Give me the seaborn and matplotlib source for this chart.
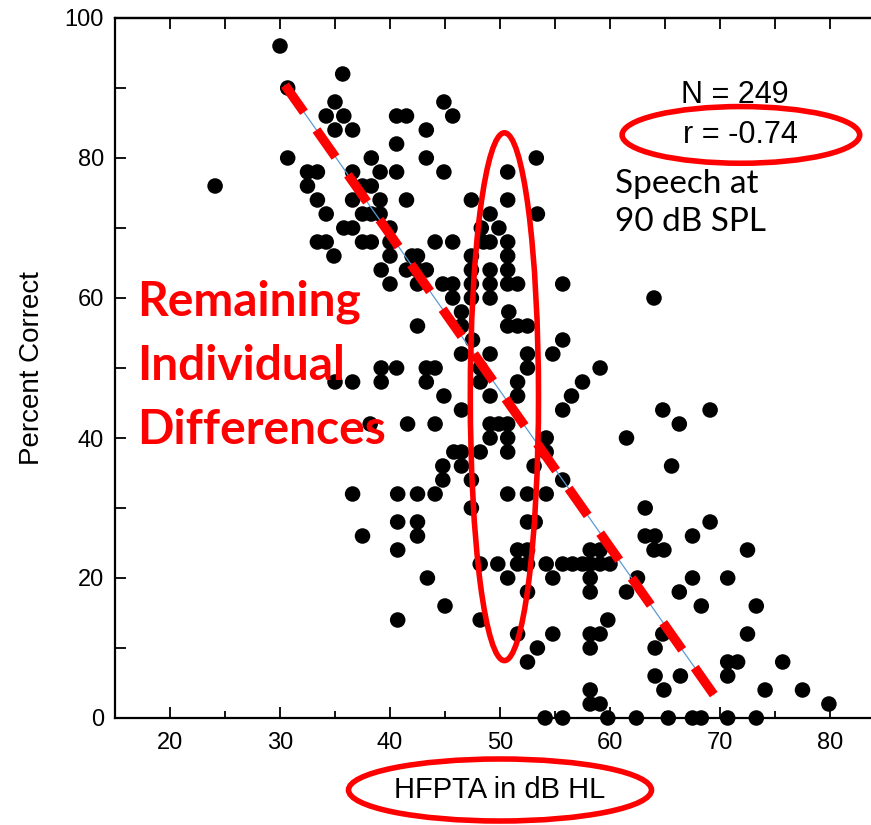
import matplotlib
matplotlib.use("Agg")
import matplotlib.pyplot as plt
from matplotlib.patches import Ellipse
from matplotlib.ticker import MultipleLocator
import seaborn as sns
import pandas as pd

# ---- data (HFPTA in dB HL, percent correct) ----
level_96 = [30.0]
level_92 = [35.7]
level_90 = [30.7]
level_88 = [35.0, 44.9]
level_86 = [34.2, 35.8, 40.6, 41.5, 45.7]
level_84 = [35.0, 36.6, 43.3]
level_82 = [40.6]
level_80 = [30.7, 38.3, 43.3, 53.3]
level_78 = [32.5, 33.4, 36.6, 39.1, 40.6, 44.9, 50.7]
level_76 = [24.1, 32.5, 37.5, 38.3]
level_74 = [33.4, 36.6, 39.1, 41.5, 47.4, 50.7]
level_72 = [34.2, 37.5, 38.3, 39.1, 49.1, 53.4]
level_70 = [35.8, 36.6, 40.0, 48.3, 49.9]
level_68 = [33.4, 34.2, 37.5, 38.3, 40.0, 44.1, 45.7, 48.5, 49.1, 50.7]
level_66 = [34.9, 40.0, 42.0, 42.5, 47.4, 50.7]
level_64 = [39.2, 41.5, 42.5, 43.3, 47.4, 49.1, 50.7]
level_62 = [40.0, 42.5, 44.8, 45.7, 47.4, 49.1, 50.7, 51.6, 55.7]
level_60 = [45.7, 47.4, 49.1, 64.0]
level_58 = [46.5, 50.8]
level_56 = [42.5, 46.5, 50.7, 51.6, 52.5]
level_54 = [47.5, 55.7]
level_52 = [46.5, 49.1, 52.5, 54.8]
level_50 = [39.2, 40.6, 43.3, 44.1, 48.2, 52.5, 59.1]
level_48 = [35.0, 36.6, 39.2, 43.3, 48.2, 51.6, 57.5]
level_46 = [44.9, 49.1, 51.6, 56.5]
level_44 = [46.5, 55.7, 64.8, 69.1]
level_42 = [38.2, 41.6, 44.1, 49.1, 49.9, 50.7, 66.3]
level_40 = [49.1, 50.7, 54.2, 61.5]
level_38 = [45.8, 46.5, 48.2, 50.7, 54.2]
level_36 = [44.8, 46.5, 53.1, 65.6]
level_34 = [44.8, 47.4, 55.7]
level_32 = [36.6, 40.7, 42.5, 44.1, 50.7, 52.5, 54.2]
level_30 = [47.4, 63.2]
level_28 = [40.7, 42.5, 52.5, 53.2, 69.1]
level_26 = [37.5, 42.5, 63.2, 64.1, 67.5]
level_24 = [40.7, 51.6, 52.5, 58.2, 59.1, 64.0, 64.9, 72.5]
level_22 = [48.2, 49.8, 51.6, 52.5, 54.2, 55.7, 56.6, 57.5, 58.2, 59.1, 60.0]
level_20 = [43.4, 50.7, 54.8, 58.2, 62.5, 67.5, 70.7]
level_18 = [52.5, 58.2, 61.5, 66.3]
level_16 = [45.0, 68.3, 73.3]
level_14 = [40.7, 48.2, 59.8]
level_12 = [51.6, 54.8, 58.2, 59.1, 64.8, 72.5]
level_10 = [53.4, 58.2, 64.1]
level_08 = [52.5, 70.7, 71.6, 75.7]
level_06 = [64.1, 66.4, 70.7]
level_04 = [58.2, 64.9, 74.1, 77.5]
level_02 = [58.2, 59.1, 79.9]
level_00 = [54.1, 55.7, 59.8, 62.4, 65.3, 67.5, 68.3, 70.7, 73.3]

levels = {
    96: level_96, 92: level_92, 90: level_90, 88: level_88, 86: level_86,
    84: level_84, 82: level_82, 80: level_80, 78: level_78, 76: level_76,
    74: level_74, 72: level_72, 70: level_70, 68: level_68, 66: level_66,
    64: level_64, 62: level_62, 60: level_60, 58: level_58, 56: level_56,
    54: level_54, 52: level_52, 50: level_50, 48: level_48, 46: level_46,
    44: level_44, 42: level_42, 40: level_40, 38: level_38, 36: level_36,
    34: level_34, 32: level_32, 30: level_30, 28: level_28, 26: level_26,
    24: level_24, 22: level_22, 20: level_20, 18: level_18, 16: level_16,
    14: level_14, 12: level_12, 10: level_10, 8: level_08, 6: level_06,
    4: level_04, 2: level_02, 0: level_00,
}
hfpta = [x for y, xs in levels.items() for x in xs]
percent_correct = [y for y, xs in levels.items() for x in xs]

# regression line
fit_x = [30.45, 69.45]
fit_y = [90.4, 3.3]

x_ticks = [20, 30, 40, 50, 60, 70, 80]
y_ticks = [0, 20, 40, 60, 80, 100]

df = pd.DataFrame({"HFPTA": hfpta, "Percent": percent_correct})
fit_df = pd.DataFrame({"x": fit_x, "y": fit_y})

sns.set_style("ticks")
plt.rcParams["font.family"] = ["Liberation Sans", "DejaVu Sans"]
plt.rcParams["text.color"] = "black"
plt.rcParams["axes.labelcolor"] = "black"

W, H = 871, 825
fig = plt.figure(figsize=(W / 100, H / 100), dpi=100)
ax = fig.add_axes([115 / W, 1 - 718 / H, 770 / W, 700 / H])

sns.scatterplot(data=df, x="HFPTA", y="Percent", color="black", s=125,
                edgecolor="none", linewidth=0, ax=ax, zorder=3, clip_on=False)

sns.lineplot(data=fit_df, x="x", y="y", color="#5B9BD5", linewidth=0.9,
             ax=ax, zorder=4)
sns.lineplot(data=fit_df, x="x", y="y", color="#FF0000", linewidth=6.8,
             ax=ax, zorder=5)
ax.lines[-1].set_dashes([3.5, 2.3])
ax.lines[-1].set_dash_capstyle("butt")

ax.set_xlim(15, 85)
ax.set_ylim(0, 100)
ax.set_xticks(x_ticks)
ax.set_yticks(y_ticks)
ax.xaxis.set_minor_locator(MultipleLocator(5))
ax.yaxis.set_minor_locator(MultipleLocator(10))
ax.tick_params(axis="both", which="major", direction="in", length=8, width=1.3,
               labelsize=17, colors="black", pad=10)
ax.tick_params(axis="x", which="minor", direction="in", length=5, width=1.3,
               colors="black")
ax.tick_params(axis="y", which="minor", direction="in", length=8, width=1.3,
               colors="black")
ax.tick_params(axis="y", which="major", pad=8)
for s in ["left", "bottom", "top"]:
    ax.spines[s].set_linewidth(1.6)
    ax.spines[s].set_color("black")
ax.spines["right"].set_visible(False)

top = ax.secondary_xaxis("top")
top.set_xticks(list(range(20, 85, 5)))
top.tick_params(direction="in", length=8, width=1.3, labeltop=False,
                colors="black")
top.spines["top"].set_linewidth(1.6)
top.spines["top"].set_color("black")

ax.set_xlabel("")
ax.set_ylabel("Percent Correct", fontsize=20, labelpad=14, color="black")

# annotations
ax.add_patch(Ellipse((50.4, 45.9), 6.2, 75.4, fill=False, edgecolor="#FF0000",
                     linewidth=4, zorder=6))
fig.text(735 / W, 1 - 95 / H, "N = 249", fontsize=22, ha="center",
         va="center", color="black")
fig.text(740 / W, 1 - 135 / H, "r = -0.74", fontsize=22, ha="center",
         va="center", color="black")
ax.add_patch(Ellipse((71.9, 83.3), 21.6, 8.1, fill=False, edgecolor="#FF0000",
                     linewidth=4, zorder=6, clip_on=False))
fig.text(615 / W, 1 - 203 / H, "Speech at\n90 dB SPL", fontsize=24, ha="left",
         va="center", family=["Lato", "DejaVu Sans"], linespacing=1.36,
         color="black")
fig.text(137 / W, 1 - 366 / H, "Remaining\nIndividual\nDifferences", fontsize=34.5,
         fontweight="bold", color="#FF0000", ha="left", va="center",
         family=["Lato", "DejaVu Sans"], linespacing=1.56)

fig.text(500 / W, 1 - 790 / H, "HFPTA in dB HL", fontsize=21, ha="center",
         va="center", color="black")
fig.add_artist(Ellipse((500 / W, 1 - 790 / H), 303 / W, 62 / H, fill=False,
                       edgecolor="#FF0000", linewidth=4,
                       transform=fig.transFigure))

fig.savefig("out.png", dpi=100)
